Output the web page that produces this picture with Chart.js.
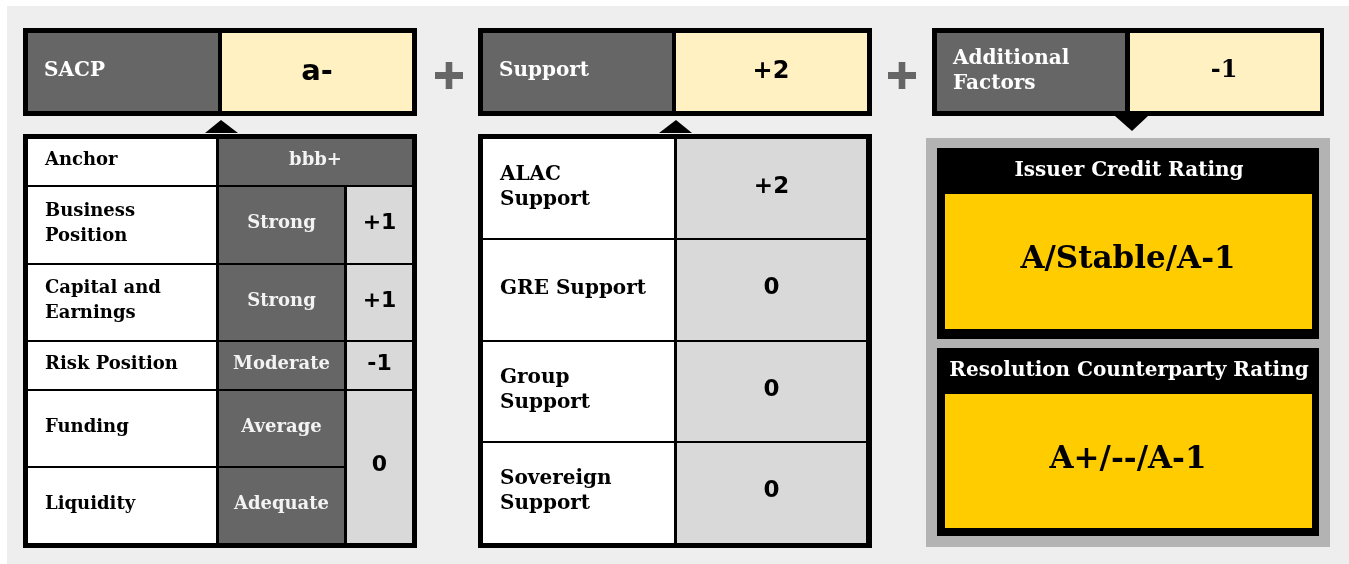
<!DOCTYPE html>
<html lang="en">
<head>
<script src="https://cdn.jsdelivr.net/npm/chart.js"></script>
<style>
  html, body { margin: 0; padding: 0; background: #ffffff; }
  #wrap { width: 1349px; height: 564px; }
</style>
</head>
<body>
<div id="wrap"><canvas id="myChart"></canvas></div>
<script>
// ---- data ----
const headerLabels = ['SACP', 'Support', 'Additional\nFactors'];
const headerValues = ['a-', '+2', '-1'];

const sacpFactors = ['Anchor', 'Business\nPosition', 'Capital and\nEarnings', 'Risk Position', 'Funding', 'Liquidity'];
const sacpAssessments = ['bbb+', 'Strong', 'Strong', 'Moderate', 'Average', 'Adequate'];
const sacpNotches = ['+1', '+1', '-1', '0']; // last one covers Funding + Liquidity

const supportFactors = ['ALAC\nSupport', 'GRE Support', 'Group\nSupport', 'Sovereign\nSupport'];
const supportValues = ['+2', '0', '0', '0'];

const ratingTitles = ['Issuer Credit Rating', 'Resolution Counterparty Rating'];
const ratingValues = ['A/Stable/A-1', 'A+/--/A-1'];

// ---- layout (diagram units = pixels of the 1349x564 page) ----
const headerOuter = [[23, 417], [478, 872], [932, 1324]];
const headerInner = [[28, 218, 222, 412], [483, 672, 676, 867], [937, 1125, 1130, 1320]];
const sacpCols = [[28, 216], [219, 344], [347, 412]];
const sacpRows = [[139, 185], [187, 263], [265, 340], [342, 389], [391, 466], [468, 543]];
const supCols = [[483, 674], [677, 866]];
const supRows = [[139, 238], [240, 340], [342, 441], [443, 543]];
const ratingBoxes = [[148, 194, 329, 339], [348, 394, 528, 536]];

const C = {
  panel: '#eeeeee', dark: '#666666', pale: '#fff1c2', light: '#d9d9d9',
  gold: '#ffcc00', frame: '#b3b3b3', black: '#000000', white: '#ffffff', soft: '#f3f3f3'
};
const SERIF = '"DejaVu Serif", serif';
const SANS = '"DejaVu Sans", sans-serif';

const diagram = {
  id: 'diagram',
  afterDraw(chart) {
    const ctx = chart.ctx;
    const sx = chart.scales.x, sy = chart.scales.y;
    const px = v => sx.getPixelForValue(v);
    const py = v => sy.getPixelForValue(v);

    function box(x0, y0, x1, y1, color) {
      ctx.fillStyle = color;
      ctx.fillRect(px(x0), py(y0), px(x1) - px(x0), py(y1) - py(y0));
    }
    function tri(pts, color) {
      ctx.fillStyle = color;
      ctx.beginPath();
      pts.forEach((p, i) => i ? ctx.lineTo(px(p[0]), py(p[1])) : ctx.moveTo(px(p[0]), py(p[1])));
      ctx.closePath();
      ctx.fill();
    }
    function text(str, x, y, font, color, align, lh) {
      ctx.font = font;
      ctx.fillStyle = color;
      ctx.textAlign = align || 'center';
      ctx.textBaseline = 'middle';
      const lines = String(str).split('\n');
      const step = lh || 25;
      const top = y - (lines.length - 1) * step / 2;
      lines.forEach((l, i) => ctx.fillText(l, px(x), py(top + i * step)));
    }
    function plus(cx, cy) {
      box(cx - 14, cy - 3.5, cx + 14, cy + 3.5, C.dark);
      box(cx - 3.3, cy - 13.5, cx + 3.3, cy + 13.5, C.dark);
    }

    ctx.save();
    box(7, 6, 1349, 564, C.panel);

    // header boxes
    headerOuter.forEach((o, i) => {
      const h = headerInner[i];
      box(o[0], 28, o[1], 116, C.black);
      box(h[0], 33, h[1], 111, C.dark);
      box(h[2], 33, h[3], 111, C.pale);
      text(headerLabels[i], h[0] + 16, 71, 'bold 20px ' + SERIF, C.white, 'left');
    });
    text(headerValues[0], 317, 72, 'bold 29px ' + SANS, C.black);
    text(headerValues[1], 771, 72, 'bold 24px ' + SANS, C.black);
    text(headerValues[2], 1224, 71, 'bold 24px ' + SERIF, C.black);
    plus(449, 75.5);
    plus(902, 75.5);

    // pointers
    tri([[205, 133], [221, 120], [238, 133]], C.black);
    tri([[659, 133], [676, 120], [692, 133]], C.black);
    tri([[1115, 116], [1148, 116], [1132, 131]], C.black);

    // SACP table
    box(23, 134, 417, 548, C.black);
    sacpRows.forEach((r, i) => {
      const cy = (r[0] + r[1]) / 2 - 1.5;
      box(sacpCols[0][0], r[0], sacpCols[0][1], r[1], C.white);
      text(sacpFactors[i], 45, cy, 'bold 18px ' + SERIF, C.black, 'left');
      const dx1 = i === 0 ? sacpCols[2][1] : sacpCols[1][1];
      box(sacpCols[1][0], r[0], dx1, r[1], C.dark);
      text(sacpAssessments[i], (sacpCols[1][0] + dx1) / 2, cy, 'bold 18px ' + SERIF, C.soft);
    });
    [[1, 1], [2, 2], [3, 3], [4, 5]].forEach((span, k) => {
      const y0 = sacpRows[span[0]][0], y1 = sacpRows[span[1]][1];
      box(sacpCols[2][0], y0, sacpCols[2][1], y1, C.light);
      text(sacpNotches[k], (sacpCols[2][0] + sacpCols[2][1]) / 2, (y0 + y1) / 2 - 1.5, 'bold 22px ' + SANS, C.black);
    });

    // support table
    box(478, 134, 872, 548, C.black);
    supRows.forEach((r, i) => {
      const cy = (r[0] + r[1]) / 2 - 1.5;
      box(supCols[0][0], r[0], supCols[0][1], r[1], C.white);
      box(supCols[1][0], r[0], supCols[1][1], r[1], C.light);
      text(supportFactors[i], 500, cy, 'bold 20px ' + SERIF, C.black, 'left');
      text(supportValues[i], (supCols[1][0] + supCols[1][1]) / 2, cy, 'bold 23px ' + SANS, C.black);
    });

    // ratings
    box(926, 138, 1330, 547, C.frame);
    ratingBoxes.forEach((b, i) => {
      box(937, b[0], 1319, b[3], C.black);
      box(945, b[1], 1312, b[2], C.gold);
      text(ratingTitles[i], 1129, (b[0] + b[1]) / 2, 'bold 20px ' + SERIF, C.white);
      text(ratingValues[i], 1128, (b[1] + b[2]) / 2 - 1.5, 'bold 31px ' + SERIF, C.black);
    });
    ctx.restore();
  }
};

new Chart(document.getElementById('myChart'), {
  type: 'scatter',
  data: { datasets: [] },
  options: {
    responsive: true,
    maintainAspectRatio: false,
    animation: false,
    layout: { padding: 0 },
    plugins: { legend: { display: false }, tooltip: { enabled: false } },
    scales: {
      x: { type: 'linear', min: 0, max: 1349, display: false },
      y: { type: 'linear', min: 0, max: 564, reverse: true, display: false }
    }
  },
  plugins: [diagram]
});
</script>
</body>
</html>
